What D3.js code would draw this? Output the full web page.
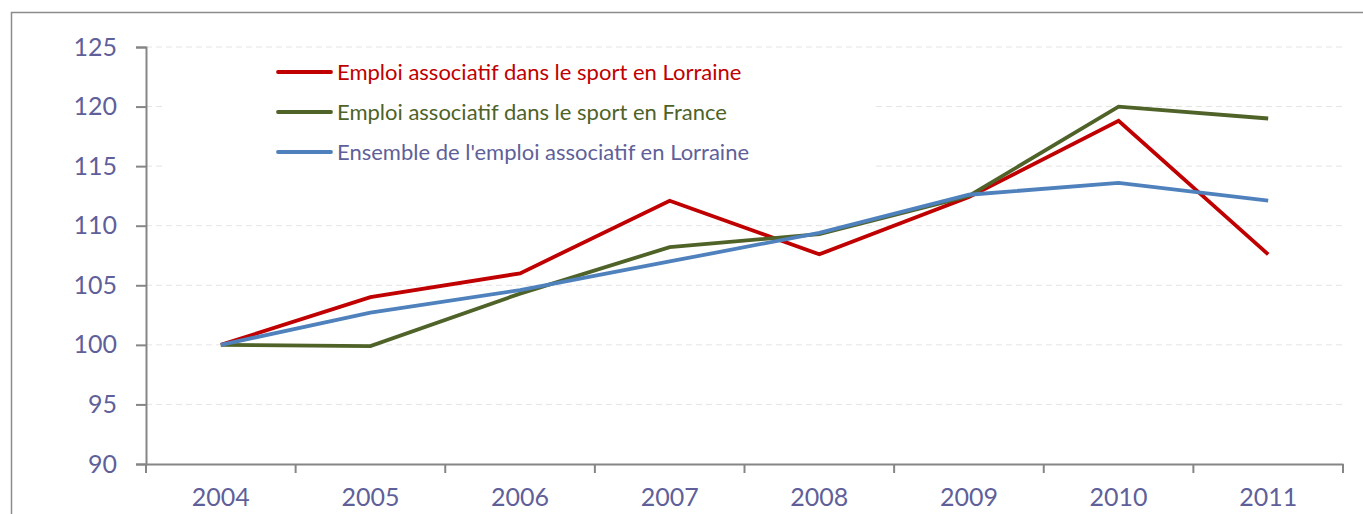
<!DOCTYPE html>
<html>
<head>
<meta charset="utf-8">
<script src="https://cdn.jsdelivr.net/npm/d3@7"></script>
<style>
  body { margin: 0; background: #fff; }
  svg { display: block; font-family: Lato, "Open Sans", sans-serif; }
</style>
</head>
<body>
<svg id="chart"></svg>
<script>
// data
var years = ["2004", "2005", "2006", "2007", "2008", "2009", "2010", "2011"]
var sportLorraine = [100, 104.0, 106.0, 112.1, 107.6, 112.4, 118.8, 107.6]
var sportFrance = [100, 99.9, 104.3, 108.2, 109.3, 112.5, 120.0, 119.0]
var ensembleLorraine = [100, 102.7, 104.6, 107.0, 109.4, 112.6, 113.6, 112.1]
var yTicks = [90, 95, 100, 105, 110, 115, 120, 125]
var seriesNames = [
    "Emploi associatif dans le sport en Lorraine",
    "Emploi associatif dans le sport en France",
    "Ensemble de l'emploi associatif en Lorraine"
]

var width = 1363, height = 514
var svg = d3.select("#chart").attr("width", width).attr("height", height)

//style
var axisColor = "#868686"
var textColor = "#5f5f9a"
var colors = ["#c00000", "#4f6228", "#4f81bd"]
var lineWidth = 3.8
var axisFontSize = 25
var legendFontSize = 22

var plot = {left: 146, right: 1343, top: 47, bottom: 464}

//outer frame
svg.append("rect")
   .attr("x", 11.5).attr("y", 12.5)
   .attr("width", width).attr("height", height)
   .attr("fill", "none")
   .attr("stroke", "#8c8c8c")
   .attr("stroke-width", 1.5)

var x = d3.scaleBand().domain(years).range([plot.left, plot.right])
var y = d3.scaleLinear().domain([90, 125]).range([plot.bottom, plot.top])

//gridlines
svg.append("g")
   .selectAll("line")
   .data(yTicks.filter(d => d > 90))
   .enter()
   .append("line")
   .attr("x1", plot.left).attr("x2", plot.right)
   .attr("y1", d => y(d)).attr("y2", d => y(d))
   .attr("stroke", "#e4e4e4")
   .attr("stroke-width", 1)
   .attr("stroke-dasharray", "6,4")

//y axis
var yAxis = svg.append("g")
   .attr("transform", `translate(${plot.left},0)`)
   .call(d3.axisLeft(y).tickValues(yTicks).tickSize(10).tickPadding(19))
yAxis.select(".domain").attr("stroke", axisColor).attr("stroke-width", 2)
yAxis.selectAll(".tick line").attr("stroke", axisColor).attr("stroke-width", 2)
yAxis.selectAll("text").attr("fill", textColor).attr("font-size", axisFontSize).attr("font-family", "Lato, sans-serif")

//x axis
var xAxis = svg.append("g")
   .attr("transform", `translate(0,${plot.bottom})`)
   .call(d3.axisBottom(x).tickSize(0).tickPadding(24))
xAxis.select(".domain").attr("stroke", axisColor).attr("stroke-width", 2)
xAxis.selectAll("text").attr("fill", textColor).attr("font-size", axisFontSize).attr("font-family", "Lato, sans-serif")
//tick marks between categories
xAxis.selectAll(".sep")
     .data(years.concat(["end"]))
     .enter()
     .append("line")
     .attr("class", "sep")
     .attr("x1", (d, i) => plot.left + i * x.step())
     .attr("x2", (d, i) => plot.left + i * x.step())
     .attr("y1", 0).attr("y2", 9)
     .attr("stroke", axisColor)
     .attr("stroke-width", 2)

//legend background (hides gridlines)
svg.append("rect")
   .attr("x", 163).attr("y", 55)
   .attr("width", 709).attr("height", 118)
   .attr("fill", "#fff")

//lines
var line = d3.line()
             .x((d, i) => x(years[i]) + x.bandwidth() / 2)
             .y(d => y(d))
var allSeries = [sportLorraine, sportFrance, ensembleLorraine]
svg.append("g")
   .selectAll("path")
   .data(allSeries)
   .enter()
   .append("path")
   .attr("d", d => line(d))
   .attr("fill", "none")
   .attr("stroke", (d, i) => colors[i])
   .attr("stroke-width", lineWidth)
   .attr("stroke-linejoin", "miter")

//legend
var legend = svg.append("g")
                .selectAll("g")
                .data(seriesNames)
                .enter()
                .append("g")
                .attr("transform", (d, i) => `translate(278,${72 + i * 40})`)
legend.append("line")
      .attr("x1", 0).attr("x2", 53)
      .attr("stroke", (d, i) => colors[i])
      .attr("stroke-width", lineWidth)
      .attr("stroke-linecap", "round")
legend.append("text")
      .attr("x", 59)
      .attr("dy", "0.35em")
      .attr("font-size", legendFontSize)
      .attr("fill", (d, i) => i == 2 ? textColor : colors[i])
      .text(d => d)
</script>
</body>
</html>
